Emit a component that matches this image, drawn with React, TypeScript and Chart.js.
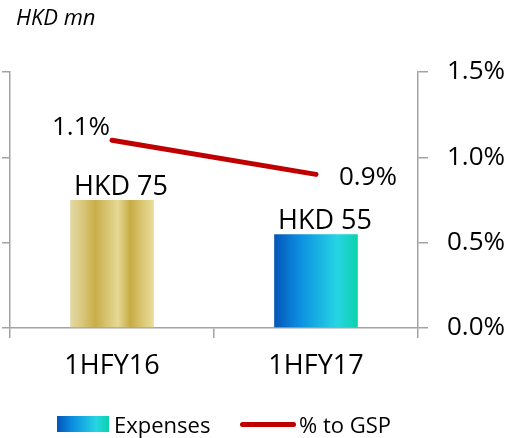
import React, { useEffect, useRef } from "react";
import { Chart, registerables } from "chart.js";

Chart.register(...registerables);

// Half-year expenses (HKD mn) and their share of GSP (%)
const categories = ["1HFY16", "1HFY17"];
const expenses = [75, 55];
const gspShare = [1.1, 0.9];
const expenseAxisTicks = [0, 50, 100, 150];
const shareAxisTicks = [0, 0.5, 1.0, 1.5];
const shareLabelSide = ["left", "right"];

const FONT = '"Open Sans", "DejaVu Sans", sans-serif';
const AXIS_GREY = "#a3a3a3";
const LINE_RED = "#c00000";
const BAR_FRACTION = 0.41;

// Horizontal gradient stops for each bar (gold for the first half-year, blue for the second)
const barStops: [number, string][][] = [
  [
    [0, "#e4d9a6"],
    [0.15, "#d8c67b"],
    [0.3, "#c8ad48"],
    [0.45, "#d9c674"],
    [0.57, "#e7d995"],
    [0.72, "#c7ab44"],
    [0.87, "#dcc977"],
    [1, "#e9dd9b"],
  ],
  [
    [0, "#0555b7"],
    [0.3, "#0b8ee0"],
    [0.75, "#26d5e3"],
    [1, "#0cd2ac"],
  ],
];

const legendGradient =
  "linear-gradient(to right, #0555b7 0%, #0b8ee0 30%, #26d5e3 75%, #0cd2ac 100%)";

const valueLabels = {
  id: "valueLabels",
  afterDatasetsDraw(chart: any) {
    const ctx = chart.ctx;
    ctx.save();
    ctx.fillStyle = "#000";
    ctx.font = `27px ${FONT}`;
    ctx.textBaseline = "alphabetic";

    const barMeta = chart.getDatasetMeta(0);
    barMeta.data.forEach((bar: any, i: number) => {
      ctx.textAlign = "center";
      ctx.fillText(`HKD ${expenses[i]}`, bar.x + 9, bar.y - 5);
    });

    ctx.font = `26px ${FONT}`;
    const lineMeta = chart.getDatasetMeta(1);
    lineMeta.data.forEach((pt: any, i: number) => {
      const text = `${gspShare[i].toFixed(1)}%`;
      if (shareLabelSide[i] === "left") {
        ctx.textAlign = "right";
        ctx.fillText(text, pt.x - 2, pt.y - 5);
      } else {
        ctx.textAlign = "left";
        ctx.fillText(text, pt.x + 23, pt.y + 11);
      }
    });
    ctx.restore();
  },
};

function ExpenseChart() {
  const canvasRef = useRef<HTMLCanvasElement | null>(null);

  useEffect(() => {
    let chart: Chart | null = null;
    let cancelled = false;

    const build = () => {
      if (cancelled || !canvasRef.current) return;
      chart = new Chart(canvasRef.current, {
        type: "bar",
        data: {
          labels: categories,
          datasets: [
            {
              type: "bar",
              label: "Expenses",
              data: expenses,
              yAxisID: "y",
              order: 2,
              categoryPercentage: 1,
              barPercentage: BAR_FRACTION,
              borderWidth: 0,
              backgroundColor: (c: any) => {
                const ch = c.chart;
                const stops = barStops[c.dataIndex ?? 0] || barStops[1];
                if (!ch.chartArea || c.dataIndex === undefined) return stops[0][1];
                const xs = ch.scales.x;
                const cx = xs.getPixelForValue(c.dataIndex);
                const half = ((xs.width / categories.length) * BAR_FRACTION) / 2;
                const g = ch.ctx.createLinearGradient(cx - half, 0, cx + half, 0);
                stops.forEach(([o, col]) => g.addColorStop(o, col));
                return g;
              },
            },
            {
              type: "line",
              label: "% to GSP",
              data: gspShare,
              yAxisID: "y1",
              order: 1,
              borderColor: LINE_RED,
              borderWidth: 5,
              borderCapStyle: "round",
              pointRadius: 0,
              tension: 0,
            },
          ] as any,
        },
        options: {
          animation: false,
          responsive: false,
          events: [],
          layout: { padding: { top: 72, left: 0, right: 0, bottom: 0 } },
          plugins: {
            legend: { display: false },
            tooltip: { enabled: false },
            title: { display: false },
          },
          scales: {
            x: {
              offset: true,
              grid: {
                offset: true,
                drawOnChartArea: false,
                drawTicks: true,
                tickLength: 10,
                color: AXIS_GREY,
                lineWidth: 1.5,
              },
              border: { color: AXIS_GREY, width: 1.5 },
              ticks: { color: "#000", font: { family: FONT, size: 27 }, padding: 12 },
              afterFit: (s: any) => {
                s.height = 110;
              },
            },
            y: {
              position: "left",
              min: expenseAxisTicks[0],
              max: expenseAxisTicks[expenseAxisTicks.length - 1],
              ticks: { display: false, stepSize: expenseAxisTicks[1] - expenseAxisTicks[0] },
              grid: {
                drawOnChartArea: false,
                drawTicks: true,
                tickLength: 8,
                color: AXIS_GREY,
                lineWidth: 1.5,
              },
              border: { color: AXIS_GREY, width: 1.5 },
              afterFit: (s: any) => {
                s.width = 10;
              },
            },
            y1: {
              position: "right",
              min: shareAxisTicks[0],
              max: shareAxisTicks[shareAxisTicks.length - 1],
              ticks: {
                stepSize: shareAxisTicks[1] - shareAxisTicks[0],
                color: "#000",
                font: { family: FONT, size: 26 },
                padding: 19,
                callback: (v: any) => `${Number(v).toFixed(1)}%`,
              },
              grid: {
                drawOnChartArea: false,
                drawTicks: true,
                tickLength: 10,
                color: AXIS_GREY,
                lineWidth: 1.5,
              },
              border: { color: AXIS_GREY, width: 1.5 },
              afterFit: (s: any) => {
                s.width = 88;
              },
            },
          },
        },
        plugins: [valueLabels],
      });
    };

    const fonts = (document as any).fonts;
    if (fonts && fonts.load) {
      Promise.all([
        fonts.load(`26px "Open Sans"`),
        fonts.load(`italic 22px "Open Sans"`),
      ])
        .catch(() => null)
        .then(build);
    } else {
      build();
    }

    return () => {
      cancelled = true;
      if (chart) chart.destroy();
    };
  }, []);

  return <canvas ref={canvasRef} width={506} height={438} style={{ display: "block" }} />;
}

const legendText: React.CSSProperties = {
  position: "absolute",
  top: 416,
  fontSize: 22,
  lineHeight: "16px",
  color: "#000",
  whiteSpace: "nowrap",
};

export default function App() {
  return (
    <div
      style={{
        position: "absolute",
        left: 0,
        top: 0,
        width: 506,
        height: 438,
        background: "#fff",
        fontFamily: FONT,
        overflow: "hidden",
      }}
    >
      <ExpenseChart />
      <div
        style={{
          position: "absolute",
          left: 16,
          top: 6,
          fontSize: 22,
          lineHeight: "20px",
          fontStyle: "italic",
          color: "#000",
          whiteSpace: "nowrap",
        }}
      >
        HKD mn
      </div>
      <span
        style={{
          position: "absolute",
          left: 57,
          top: 416,
          width: 52,
          height: 16,
          background: legendGradient,
        }}
      />
      <span style={{ ...legendText, left: 114 }}>Expenses</span>
      <span
        style={{
          position: "absolute",
          left: 240,
          top: 422,
          width: 56,
          height: 5,
          borderRadius: 3,
          background: LINE_RED,
        }}
      />
      <span style={{ ...legendText, left: 299 }}>% to GSP</span>
    </div>
  );
}
